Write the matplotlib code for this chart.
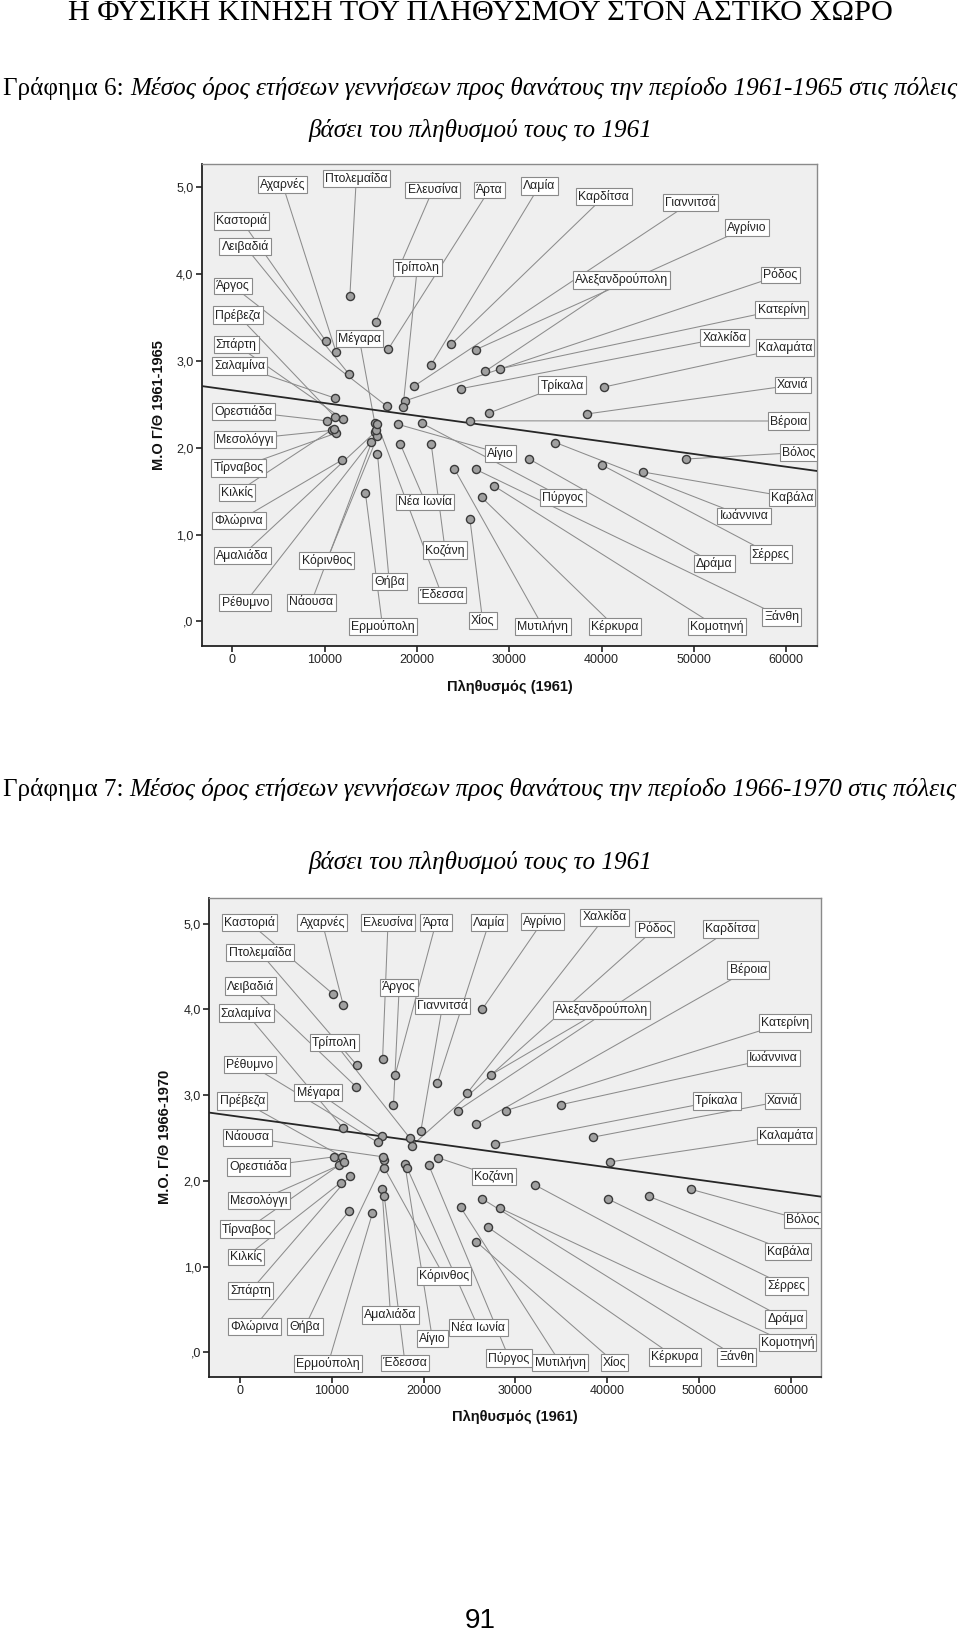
import matplotlib
matplotlib.use('Agg')
import matplotlib.pyplot as plt

plt.rcParams['font.family'] = ['Liberation Sans', 'DejaVu Sans']

W, H = 960, 1634

# data: towns, population 1961, mean births/deaths ratio for the two periods
cities = ['Καστοριά', 'Λειβαδιά', 'Αχαρνές', 'Πτολεμαΐδα', 'Ελευσίνα', 'Άρτα', 'Λαμία',
          'Καρδίτσα', 'Γιαννιτσά', 'Αγρίνιο', 'Αλεξανδρούπολη', 'Ρόδος', 'Χαλκίδα',
          'Κατερίνη', 'Καλαμάτα', 'Χανιά', 'Τρίκαλα', 'Βέροια', 'Βόλος', 'Καβάλα',
          'Ιωάννινα', 'Σέρρες', 'Δράμα', 'Κομοτηνή', 'Ξάνθη', 'Κέρκυρα', 'Μυτιλήνη',
          'Χίος', 'Πύργος', 'Αίγιο', 'Νέα Ιωνία', 'Κοζάνη', 'Τρίπολη', 'Άργος', 'Μέγαρα',
          'Ερμούπολη', 'Ορεστιάδα', 'Μεσολόγγι', 'Φλώρινα', 'Σπάρτη', 'Σαλαμίνα',
          'Πρέβεζα', 'Τίρναβος', 'Κιλκίς', 'Ρέθυμνο', 'Αμαλιάδα', 'Κόρινθος', 'Θήβα',
          'Νάουσα', 'Έδεσσα']
pop_1961 = [10130, 12630, 11250, 12740, 15535, 16915, 21500,
            23700, 19700, 26375, 27390, 18715, 24730,
            28990, 40280, 38470, 27810, 25740, 49180, 44520,
            35015, 40065, 32170, 28350, 26390, 27000, 24045,
            25740, 20580, 17950, 18210, 21555, 18500, 16720, 15430,
            14420, 10225, 10780, 11910, 11990, 11180,
            11160, 11285, 10980, 15000, 15470, 15730, 15725,
            15610, 15725]
ratio_1961_65 = [3.23, 2.85, 3.10, 3.75, 3.45, 3.14, 2.95,
                 3.19, 2.71, 3.13, 2.88, 2.54, 2.68,
                 2.91, 2.70, 2.39, 2.40, 2.31, 1.87, 1.72,
                 2.06, 1.80, 1.87, 1.56, 1.75, 1.43, 1.76,
                 1.18, 2.28, 2.27, 2.04, 2.04, 2.47, 2.48, 2.29,
                 1.48, 2.31, 2.20, 1.86, 2.33, 2.57,
                 2.35, 2.17, 2.22, 2.07, 2.18, 2.13, 1.93,
                 2.21, 2.27]
ratio_1966_70 = [4.18, 3.10, 4.05, 3.35, 3.42, 3.24, 3.14,
                 2.82, 2.58, 4.00, 3.24, 2.41, 3.02,
                 2.82, 2.22, 2.51, 2.43, 2.66, 1.90, 1.82,
                 2.89, 1.79, 1.95, 1.68, 1.79, 1.46, 1.69,
                 1.29, 2.18, 2.20, 2.15, 2.27, 2.50, 2.88, 2.52,
                 1.62, 2.28, 2.18, 1.65, 2.06, 2.62,
                 2.28, 2.22, 1.98, 2.45, 1.91, 2.15, 2.24,
                 2.28, 1.82]

# linear fit lines (intercept, slope)
fit_1961_65 = (2.662, -1.468e-5)
fit_1966_70 = (2.747, -1.471e-5)

x_ticks = [0, 10000, 20000, 30000, 40000, 50000, 60000]
y_ticks = [0, 1, 2, 3, 4, 5]
y_ticklabels = [',0', '1,0', '2,0', '3,0', '4,0', '5,0']

# where the name boxes sit (data coordinates of each panel)
labels_1 = {
    'Αχαρνές': (5442, 5.036), 'Πτολεμαΐδα': (13431, 5.104), 'Ελευσίνα': (21702, 4.969),
    'Άρτα': (27827, 4.969), 'Λαμία': (33268, 5.017), 'Καρδίτσα': (40260, 4.892),
    'Γιαννιτσά': (49648, 4.825), 'Αγρίνιο': (55761, 4.537), 'Καστοριά': (1019, 4.614),
    'Λειβαδιά': (1409, 4.316), 'Άργος': (54, 3.863), 'Πρέβεζα': (596, 3.529),
    'Σπάρτη': (423, 3.187), 'Σαλαμίνα': (780, 2.944), 'Ορεστιάδα': (1236, 2.419),
    'Μεσολόγγι': (1377, 2.098), 'Τίρναβος': (694, 1.768), 'Κιλκίς': (477, 1.484),
    'Φλώρινα': (726, 1.161), 'Αμαλιάδα': (1084, 0.760), 'Ρέθυμνο': (1409, 0.217),
    'Κόρινθος': (10233, 0.700), 'Νάουσα': (8553, 0.217), 'Ερμούπολη': (16282, -0.062),
    'Θήβα': (17008, 0.456), 'Έδεσσα': (22699, 0.303), 'Κοζάνη': (23057, 0.821),
    'Νέα Ιωνία': (20889, 1.378), 'Χίος': (27122, 0.006), 'Μυτιλήνη': (33648, -0.062),
    'Κέρκυρα': (41453, -0.062), 'Κομοτηνή': (52510, -0.062), 'Ξάνθη': (59501, 0.050),
    'Δράμα': (52217, 0.664), 'Σέρρες': (58341, 0.773), 'Ιωάννινα': (55447, 1.210),
    'Καβάλα': (60640, 1.426), 'Πύργος': (35827, 1.426), 'Αίγιο': (29051, 1.935),
    'Βόλος': (61355, 1.945), 'Βέροια': (60271, 2.308), 'Χανιά': (60726, 2.722),
    'Τρίκαλα': (35740, 2.722), 'Καλαμάτα': (59881, 3.154), 'Χαλκίδα': (53355, 3.270),
    'Κατερίνη': (59512, 3.596), 'Ρόδος': (59371, 3.990), 'Αλεξανδρούπολη': (42190, 3.934),
    'Τρίπολη': (20043, 4.076), 'Μέγαρα': (13756, 3.260),
}
labels_2 = {
    'Καστοριά': (1013, 5.013), 'Αχαρνές': (8967, 5.013), 'Ελευσίνα': (16126, 5.013),
    'Άρτα': (21355, 5.013), 'Λαμία': (27130, 5.013), 'Αγρίνιο': (32959, 5.025),
    'Χαλκίδα': (39736, 5.073), 'Ρόδος': (45184, 4.939), 'Καρδίτσα': (53443, 4.939),
    'Βέροια': (55383, 4.461), 'Αλεξανδρούπολη': (39410, 3.994), 'Κατερίνη': (59381, 3.842),
    'Ιωάννινα': (58106, 3.434), 'Τρίκαλα': (51940, 2.932), 'Χανιά': (59109, 2.932),
    'Καλαμάτα': (59567, 2.530), 'Βόλος': (61288, 1.544), 'Καβάλα': (59708, 1.179),
    'Σέρρες': (59523, 0.774), 'Δράμα': (59436, 0.389), 'Κομοτηνή': (59654, 0.109),
    'Ξάνθη': (54119, -0.055), 'Κέρκυρα': (47396, -0.055), 'Χίος': (40804, -0.119),
    'Μυτιλήνη': (34866, -0.119), 'Πύργος': (29309, -0.067), 'Νέα Ιωνία': (25964, 0.289),
    'Κοζάνη': (27675, 2.051), 'Κόρινθος': (22227, 0.890), 'Αίγιο': (20952, 0.163),
    'Αμαλιάδα': (16398, 0.435), 'Έδεσσα': (17978, -0.128), 'Ερμούπολη': (9621, -0.128),
    'Θήβα': (7082, 0.299), 'Φλώρινα': (1602, 0.299), 'Σπάρτη': (1177, 0.721),
    'Κιλκίς': (632, 1.112), 'Τίρναβος': (784, 1.436), 'Μεσολόγγι': (2092, 1.771),
    'Ορεστιάδα': (1994, 2.162), 'Νάουσα': (817, 2.506), 'Πρέβεζα': (240, 2.932),
    'Ρέθυμνο': (1090, 3.356), 'Σαλαμίνα': (686, 3.956), 'Λειβαδιά': (1144, 4.272),
    'Πτολεμαΐδα': (2179, 4.665), 'Άργος': (17346, 4.257), 'Γιαννιτσά': (22064, 4.043),
    'Τρίπολη': (10275, 3.615), 'Μέγαρα': (8499, 3.031),
}


def px_axes(fig, x0, y0, x1, y1):
    # pixel box (top-left origin) -> figure axes
    return fig.add_axes([x0 / W, 1 - y1 / H, (x1 - x0) / W, (y1 - y0) / H])


def draw_panel(ax, ratios, fit, labpos, xlim, ylim):
    ax.set_facecolor('#efefef')
    ax.set_xlim(*xlim)
    ax.set_ylim(*ylim)
    for name, x, y in zip(cities, pop_1961, ratios):
        lx, ly = labpos[name]
        ax.plot([lx, x], [ly, y], color='#8c8c8c', lw=0.75, zorder=2)
        ax.text(lx, ly, name, ha='center', va='center', fontsize=8.8, color='#222222',
                zorder=6, bbox=dict(boxstyle='square,pad=0.18', fc='white',
                                    ec='#8a8a8a', lw=0.8))
    a, b = fit
    ax.plot(list(xlim), [a + b * xlim[0], a + b * xlim[1]], color='#262626',
            lw=1.3, zorder=3)
    ax.scatter(pop_1961, ratios, s=34, facecolor='#a0a0a0', edgecolor='#3a3a3a',
               linewidths=1.0, zorder=4)
    ax.set_xticks(x_ticks)
    ax.set_xticklabels([str(v) for v in x_ticks])
    ax.set_yticks(y_ticks)
    ax.set_yticklabels(y_ticklabels)
    ax.tick_params(direction='out', length=4, width=1.2, color='#222222',
                   labelsize=9, labelcolor='#222222', pad=2)
    for s in ['left', 'bottom']:
        ax.spines[s].set_color('#222222')
        ax.spines[s].set_linewidth(1.3)
    for s in ['top', 'right']:
        ax.spines[s].set_color('#8a8a8a')
        ax.spines[s].set_linewidth(1.0)


def title_line(fig, ypx, upright, italic, size):
    r = fig.canvas.get_renderer()
    t1 = fig.text(0, 1 - ypx / H, upright, fontsize=size, family='Liberation Serif',
                  va='center')
    t2 = fig.text(0, 1 - ypx / H, italic, fontsize=size, family='Liberation Serif',
                  style='italic', va='center')
    w1 = t1.get_window_extent(r).width
    w2 = t2.get_window_extent(r).width
    gap = size * 100 / 72 * 0.25 if upright else 0
    x0 = (W - (w1 + gap + w2)) / 2
    t1.set_x(x0 / W)
    t2.set_x((x0 + w1 + gap) / W)


fig = plt.figure(figsize=(W / 100, H / 100), dpi=100)
fig.patch.set_facecolor('white')

fig.text(0.5, 1 - 13 / H, 'Η ΦΥΣΙΚΗ ΚΙΝΗΣΗ ΤΟΥ ΠΛΗΘΥΣΜΟΥ ΣΤΟΝ ΑΣΤΙΚΟ ΧΩΡΟ',
         ha='center', va='center', family='Liberation Serif', fontsize=21.8)

title_line(fig, 89, 'Γράφημα 6:',
           'Μέσος όρος ετήσεων γεννήσεων προς θανάτους την περίοδο 1961-1965 στις πόλεις', 18.1)
title_line(fig, 131, '', 'βάσει του πληθυσμού τους το 1961', 18.1)

ax1 = px_axes(fig, 201.7, 164, 817.3, 646)
draw_panel(ax1, ratio_1961_65, fit_1961_65, labels_1, (-3315, 63380), (-0.285, 5.27))
fig.text(159 / W, 1 - 405 / H, 'M.O Γ/Θ 1961-1965', rotation=90, ha='center',
         va='center', fontsize=10.5, fontweight='bold', color='#111111')
fig.text(509.5 / W, 1 - 687 / H, 'Πληθυσμός (1961)', ha='center', va='center',
         fontsize=10.5, fontweight='bold', color='#111111')

title_line(fig, 789, 'Γράφημα 7:',
           'Μέσος όρος ετήσεων γεννήσεων προς θανάτους την περίοδο 1966-1970 στις πόλεις', 18.1)
title_line(fig, 862, '', 'βάσει του πληθυσμού τους το 1961', 18.1)

ax2 = px_axes(fig, 209.3, 898, 820.7, 1376.7)
draw_panel(ax2, ratio_1966_70, fit_1966_70, labels_2, (-3345, 63270), (-0.285, 5.30))
fig.text(165 / W, 1 - 1137 / H, 'M.O. Γ/Θ 1966-1970', rotation=90, ha='center',
         va='center', fontsize=10.5, fontweight='bold', color='#111111')
fig.text(515 / W, 1 - 1417 / H, 'Πληθυσμός (1961)', ha='center', va='center',
         fontsize=10.5, fontweight='bold', color='#111111')

fig.text(0.5, 1 - 1621 / H, '91', ha='center', va='center', fontsize=20,
         family='Liberation Sans')

fig.savefig('out.png', dpi=100)
